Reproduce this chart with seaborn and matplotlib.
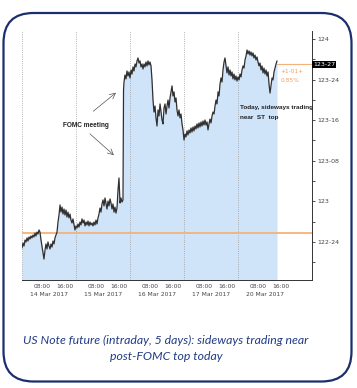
import numpy as np
import pandas as pd
import matplotlib.pyplot as plt
import seaborn as sns
from matplotlib.patches import FancyBboxPatch
from matplotlib import transforms

# posicao em sessoes (1.0 = um dia de negociacao) e preco do T-Note
t_dias = [
    0.000, 0.019, 0.037, 0.056, 0.074, 0.093, 0.111, 0.130, 0.148, 0.167, 0.185, 0.204,
    0.222, 0.241, 0.259, 0.278, 0.296, 0.315, 0.333, 0.352, 0.370, 0.389, 0.407, 0.426,
    0.444, 0.463, 0.481, 0.500, 0.519, 0.537, 0.556, 0.574, 0.593, 0.611, 0.630, 0.648,
    0.667, 0.685, 0.704, 0.722, 0.741, 0.759, 0.778, 0.796, 0.815, 0.833, 0.852, 0.870,
    0.889, 0.907, 0.926, 0.944, 0.963, 0.981,
    1.000, 1.019, 1.037, 1.056, 1.074, 1.093, 1.111, 1.130, 1.148, 1.167, 1.185, 1.204,
    1.222, 1.241, 1.259, 1.278, 1.296, 1.315, 1.333, 1.352, 1.370, 1.389, 1.407, 1.426,
    1.444, 1.463, 1.481, 1.500, 1.519, 1.537, 1.556, 1.574, 1.593, 1.611, 1.630, 1.648,
    1.667, 1.685, 1.704, 1.722, 1.741, 1.759, 1.778, 1.796, 1.815, 1.833, 1.852, 1.870,
    1.880, 1.889, 1.907, 1.926, 1.944, 1.963, 1.981,
    2.000, 2.019, 2.037, 2.056, 2.074, 2.093, 2.111, 2.130, 2.148, 2.167, 2.185, 2.204,
    2.222, 2.241, 2.259, 2.278, 2.296, 2.315, 2.333, 2.352, 2.370, 2.389, 2.407, 2.426,
    2.444, 2.463, 2.481, 2.500, 2.519, 2.537, 2.556, 2.574, 2.593, 2.611, 2.630, 2.648,
    2.667, 2.685, 2.704, 2.722, 2.741, 2.759, 2.778, 2.796, 2.815, 2.833, 2.852, 2.870,
    2.889, 2.907, 2.926, 2.944, 2.963, 2.981,
    3.000, 3.019, 3.037, 3.056, 3.074, 3.093, 3.111, 3.130, 3.148, 3.167, 3.185, 3.204,
    3.222, 3.241, 3.259, 3.278, 3.296, 3.315, 3.333, 3.352, 3.370, 3.389, 3.407, 3.426,
    3.444, 3.463, 3.481, 3.500, 3.519, 3.537, 3.556, 3.574, 3.593, 3.611, 3.630, 3.648,
    3.667, 3.685, 3.704, 3.722, 3.741, 3.759, 3.778, 3.796, 3.815, 3.833, 3.852, 3.870,
    3.889, 3.907, 3.926, 3.944, 3.963, 3.981,
    4.000, 4.019, 4.037, 4.056, 4.074, 4.093, 4.111, 4.130, 4.148, 4.167, 4.185, 4.204,
    4.222, 4.241, 4.259, 4.278, 4.296, 4.315, 4.333, 4.352, 4.370, 4.389, 4.407, 4.426,
    4.444, 4.463, 4.481, 4.500, 4.519, 4.537, 4.556, 4.574, 4.593, 4.611, 4.630, 4.648,
    4.667, 4.685, 4.704, 4.722]
preco = [
    122.713, 122.744, 122.725, 122.762, 122.750, 122.775, 122.756, 122.781, 122.768, 122.787,
    122.775, 122.793, 122.781, 122.805, 122.787, 122.811, 122.799, 122.824, 122.811, 122.762,
    122.725, 122.688, 122.645, 122.700, 122.738, 122.707, 122.750, 122.725, 122.707, 122.738,
    122.719, 122.756, 122.738, 122.775, 122.793, 122.811, 122.873, 122.916, 122.978, 122.934,
    122.965, 122.922, 122.953, 122.916, 122.947, 122.904, 122.934, 122.898, 122.922, 122.885,
    122.867, 122.892, 122.855, 122.824,
    122.849, 122.836, 122.861, 122.842, 122.873, 122.855, 122.892, 122.867, 122.885, 122.849,
    122.873, 122.855, 122.879, 122.849, 122.873, 122.855, 122.867, 122.849, 122.873, 122.855,
    122.885, 122.861, 122.898, 122.922, 122.959, 122.934, 122.984, 123.009, 122.972, 123.021,
    122.984, 122.953, 123.002, 122.972, 123.015, 122.990, 122.953, 122.984, 122.934, 122.965,
    122.928, 122.959, 123.070, 123.144, 122.990, 123.021, 122.996, 123.009,
    123.686, 123.735, 123.778, 123.754, 123.803, 123.772, 123.797,
    123.760, 123.809, 123.784, 123.828, 123.803, 123.846, 123.828, 123.865, 123.883, 123.852,
    123.865, 123.828, 123.846, 123.815, 123.846, 123.828, 123.858, 123.834, 123.865, 123.840,
    123.858, 123.834, 123.748, 123.624, 123.550, 123.587, 123.514, 123.464, 123.563, 123.526,
    123.600, 123.550, 123.501, 123.477, 123.575, 123.600, 123.538, 123.587, 123.624, 123.575,
    123.637, 123.674, 123.711, 123.649, 123.674, 123.612, 123.637, 123.563, 123.526, 123.563,
    123.514, 123.538, 123.477, 123.440,
    123.378, 123.415, 123.397, 123.434, 123.409, 123.440, 123.421, 123.452, 123.427, 123.458,
    123.434, 123.464, 123.446, 123.477, 123.452, 123.483, 123.458, 123.489, 123.464, 123.495,
    123.470, 123.501, 123.470, 123.489, 123.440, 123.477, 123.507, 123.483, 123.526, 123.550,
    123.538, 123.587, 123.624, 123.600, 123.674, 123.649, 123.723, 123.760, 123.735, 123.809,
    123.858, 123.883, 123.834, 123.791, 123.828, 123.778, 123.809, 123.772, 123.797, 123.754,
    123.784, 123.748, 123.772, 123.741,
    123.766, 123.748, 123.784, 123.766, 123.809, 123.834, 123.821, 123.871, 123.895, 123.932,
    123.908, 123.926, 123.901, 123.920, 123.895, 123.914, 123.883, 123.901, 123.871, 123.889,
    123.858, 123.834, 123.852, 123.809, 123.834, 123.791, 123.821, 123.784, 123.809, 123.772,
    123.797, 123.723, 123.667, 123.711, 123.760, 123.748, 123.797, 123.821, 123.846, 123.865]

datas = ['14 Mar 2017', '15 Mar 2017', '16 Mar 2017', '17 Mar 2017', '20 Mar 2017']
y_ticks = [122.75, 123.0, 123.25, 123.5, 123.75, 124.0]
y_labels = ['122-24', '123', '123-08', '123-16', '123-24', '124']
nivel_laranja = 122.805
ultimo = 123.844
ultimo_label = '123-27'
variacao = ['+1-01+', '0.85%']
legenda = ['US Note future (intraday, 5 days): sideways trading near',
           'post-FOMC top today']

df = pd.DataFrame({'t': t_dias, 'preco': preco})

sns.set_style("white")
plt.rcParams['font.family'] = ['DejaVu Sans']
fonte_nota = ['Liberation Sans Narrow', 'Liberation Sans', 'DejaVu Sans']

fig = plt.figure(figsize=(3.57, 3.88), dpi=100)
ax = fig.add_axes([22/357, 108/388, 290/357, 249/388])

ax.fill_between(df['t'], df['preco'], 122.0, color='#cfe3f9', lw=0, zorder=1)
sns.lineplot(data=df, x='t', y='preco', ax=ax, color='#303030', lw=0.9, zorder=3)

for d in range(5):
    ax.axvline(d, color='#9a9a9a', ls=':', lw=0.6, zorder=2)

ax.axhline(nivel_laranja, color='#f4b27a', lw=1.3, zorder=2)
ax.plot([df['t'].iloc[-1], 5.37], [ultimo, ultimo], color='#f4b27a', lw=0.8, zorder=2)

ax.set_xlim(0, 5.37)
ax.set_ylim(122.516, 124.049)
ax.set_xlabel('')
ax.set_ylabel('')

# eixo y a direita
ax.yaxis.tick_right()
ax.set_yticks(y_ticks)
ax.set_yticklabels(y_labels)
ax.set_yticks(np.arange(122.625, 124.0, 0.25), minor=True)
ax.tick_params(axis='y', which='both', direction='out', length=2, width=0.6,
               labelsize=4.5, labelcolor='#444444', pad=1.5, color='#333333')

# eixo x: dias e horarios
ax.set_xticks(range(6))
ax.set_xticklabels([''] * 6)
menores = []
for d in range(5):
    menores += [d + 0.37, d + 0.80]
ax.set_xticks(menores, minor=True)
ax.set_xticklabels(['08:00', '16:00'] * 5, minor=True)
ax.tick_params(axis='x', which='major', direction='out', length=17, width=0.6, color='#333333')
ax.tick_params(axis='x', which='minor', direction='out', length=2, width=0.5,
               labelsize=4.3, labelcolor='#444444', pad=1.2, color='#333333')
trans = transforms.blended_transform_factory(ax.transData, ax.transAxes)
for d, lab in enumerate(datas):
    ax.text(d + 0.5, -0.05, lab, transform=trans, ha='center', va='top',
            fontsize=4.3, color='#444444')

for s in ['top', 'left']:
    ax.spines[s].set_visible(False)
ax.spines['right'].set_color('#333333')
ax.spines['bottom'].set_color('#333333')
ax.spines['right'].set_linewidth(0.7)
ax.spines['bottom'].set_linewidth(0.7)

# rotulos de preco
ax.text(1.003, ultimo, ultimo_label, transform=transforms.blended_transform_factory(ax.transAxes, ax.transData),
        ha='left', va='center', fontsize=4.5, color='white',
        bbox=dict(boxstyle='square,pad=0.2', fc='black', ec='none'), zorder=5)
ax.text(4.78, 123.80, variacao[0], ha='left', va='center', fontsize=4.2, color='#f0a060')
ax.text(4.78, 123.745, variacao[1], ha='left', va='center', fontsize=4.2, color='#f0a060')

# anotacoes
ax.text(1.19, 123.47, 'FOMC meeting', ha='center', va='center', fontsize=4.7,
        fontweight='bold', color='#222222', family=fonte_nota)
ax.annotate('', xy=(1.78, 123.68), xytext=(1.28, 123.544),
            arrowprops=dict(arrowstyle='->', color='#555555', lw=0.5))
ax.annotate('', xy=(1.74, 123.273), xytext=(1.22, 123.427),
            arrowprops=dict(arrowstyle='->', color='#555555', lw=0.5))
ax.text(4.04, 123.575, 'Today, sideways trading', ha='left', va='center', fontsize=4.6,
        fontweight='bold', color='#222222', family=fonte_nota)
ax.text(4.04, 123.514, 'near  ST  top', ha='left', va='center', fontsize=4.6,
        fontweight='bold', color='#222222', family=fonte_nota)

# moldura arredondada
caixa = FancyBboxPatch((0.035, 0.065), 3.48, 3.685, boxstyle='round,pad=0,rounding_size=0.3',
                       transform=fig.dpi_scale_trans, fc='none', ec='#1b2f6e', lw=1.6)
fig.patches.append(caixa)

fig.text(166/357, 1 - 340/388, legenda[0], ha='center', va='center', fontsize=8.8,
         style='italic', color='#213c85', family=['Lato', 'DejaVu Sans'])
fig.text(166/357, 1 - 357/388, legenda[1], ha='center', va='center', fontsize=8.8,
         style='italic', color='#213c85', family=['Lato', 'DejaVu Sans'])

fig.savefig('out.png', dpi=100)
